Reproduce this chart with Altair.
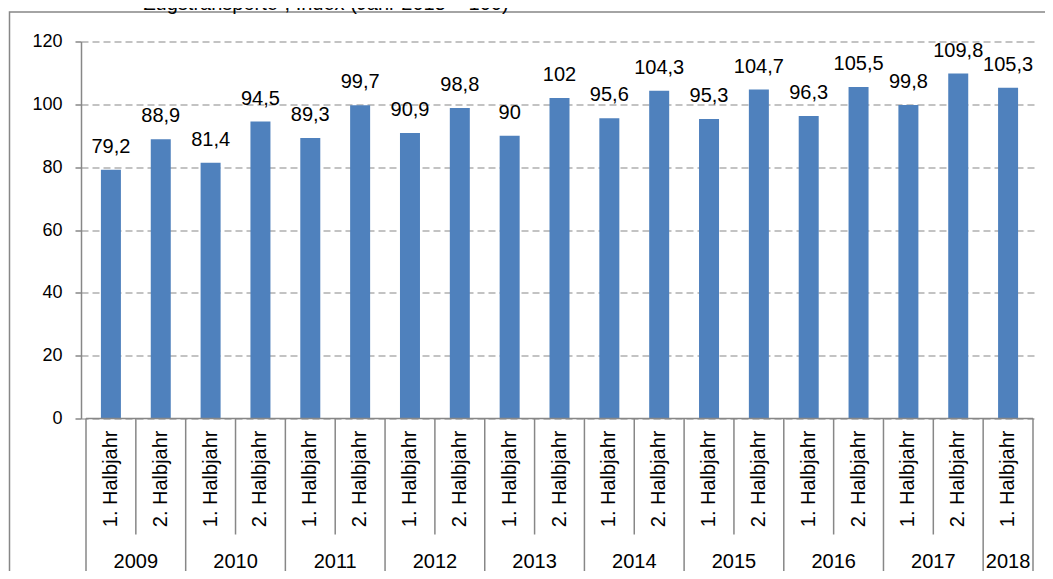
import altair as alt
import pandas as pd

# ---- data ----
halves = ["1. Halbjahr", "2. Halbjahr"] * 9 + ["1. Halbjahr"]
years = ["2009", "2010", "2011", "2012", "2013", "2014", "2015", "2016", "2017", "2018"]
values = [79.2, 88.9, 81.4, 94.5, 89.3, 99.7, 90.9, 98.8, 90, 102,
          95.6, 104.3, 95.3, 104.7, 96.3, 105.5, 99.8, 109.8, 105.3]
y_ticks = [0, 20, 40, 60, 80, 100, 120]
title_text = "Zugstransporte“, Index (Jahr 2015 = 100)"

W, H = 957, 377
PAD_L, PAD_T = 73, 33.5
PAD_R = 1037 - PAD_L - W
PAD_B = 563 - PAD_T - H
GRAY = "#878787"
BLUE = "#4f81bd"
FONT = "Liberation Sans"

n = len(values)
bars = pd.DataFrame({
    "pos": [i + 0.5 for i in range(n)],
    "value": values,
    "half": halves,
    "label": [f"{v:g}".replace(".", ",") for v in values],
})

year_pos = []
for k, yname in enumerate(years):
    start = 2 * k
    end = min(2 * k + 2, n)
    year_pos.append((start + end) / 2)
year_df = pd.DataFrame({"pos": year_pos, "year": years})

short_b = pd.DataFrame({"b": [b for b in range(1, n) if b % 2 == 1]})
long_b = pd.DataFrame({"b": [b for b in range(0, n) if b % 2 == 0] + [n]})

xscale = alt.Scale(domain=[0, n], nice=False, zero=False)
yscale = alt.Scale(domain=[0, 120], nice=False)

base = alt.Chart(bars)

bar_layer = base.mark_bar(size=20, color=BLUE).encode(
    x=alt.X("pos:Q", scale=xscale, axis=None),
    y=alt.Y("value:Q", scale=yscale, title=None,
            axis=alt.Axis(values=y_ticks, grid=True, gridDash=[7, 4],
                          gridColor=GRAY, gridWidth=1.2,
                          domainColor=GRAY, domainWidth=1.5,
                          tickColor=GRAY, tickWidth=1.5, tickSize=6,
                          labelFont=FONT, labelFontSize=18, labelColor="#000000",
                          labelPadding=13)),
)

label_layer = base.mark_text(font=FONT, fontSize=20, color="#000000",
                             baseline="alphabetic", dy=-17).encode(
    x=alt.X("pos:Q", scale=xscale),
    y=alt.Y("value:Q", scale=yscale),
    text="label:N",
)

half_layer = base.mark_text(font=FONT, fontSize=20, color="#000000",
                            angle=270, align="right", baseline="middle").encode(
    x=alt.X("pos:Q", scale=xscale),
    y=alt.value(H + 12),
    text="half:N",
)

year_layer = alt.Chart(year_df).mark_text(font=FONT, fontSize=20, color="#000000",
                                          baseline="middle").encode(
    x=alt.X("pos:Q", scale=xscale),
    y=alt.value(H + 143),
    text="year:N",
)

short_layer = alt.Chart(short_b).mark_rule(color=GRAY, strokeWidth=1.5).encode(
    x=alt.X("b:Q", scale=xscale),
    y=alt.value(H),
    y2=alt.value(H + 116),
)

long_layer = alt.Chart(long_b).mark_rule(color=GRAY, strokeWidth=1.5).encode(
    x=alt.X("b:Q", scale=xscale),
    y=alt.value(H),
    y2=alt.value(H + PAD_B),
)

baseline_layer = alt.Chart(pd.DataFrame({"a": [0], "b": [n], "z": [0]})).mark_rule(
    color=GRAY, strokeWidth=1.5).encode(
    x=alt.X("a:Q", scale=xscale),
    x2="b:Q",
    y=alt.Y("z:Q", scale=yscale),
)

frame_layer = alt.Chart(pd.DataFrame({"f": [1]})).mark_rect(
    fill=None, stroke=GRAY, strokeWidth=1.5).encode(
    x=alt.value(-71.5), x2=alt.value(W + PAD_R + 20),
    y=alt.value(-29.5), y2=alt.value(H + PAD_B + 20),
)

title_layer = alt.Chart(pd.DataFrame({"t": [title_text]})).mark_text(
    font=FONT, fontSize=20, color="#000000", align="center", baseline="alphabetic").encode(
    x=alt.value(245), y=alt.value(-32), text="t:N",
)

chart = alt.layer(
    frame_layer, bar_layer, baseline_layer, label_layer, half_layer, year_layer,
    short_layer, long_layer, title_layer,
).properties(
    width=W, height=H,
    autosize=alt.AutoSizeParams(type="none"),
    padding={"left": PAD_L, "top": PAD_T, "right": PAD_R, "bottom": PAD_B},
).configure_view(stroke=None)

chart.save("out.html", embed_options={"renderer": "svg", "actions": False})
